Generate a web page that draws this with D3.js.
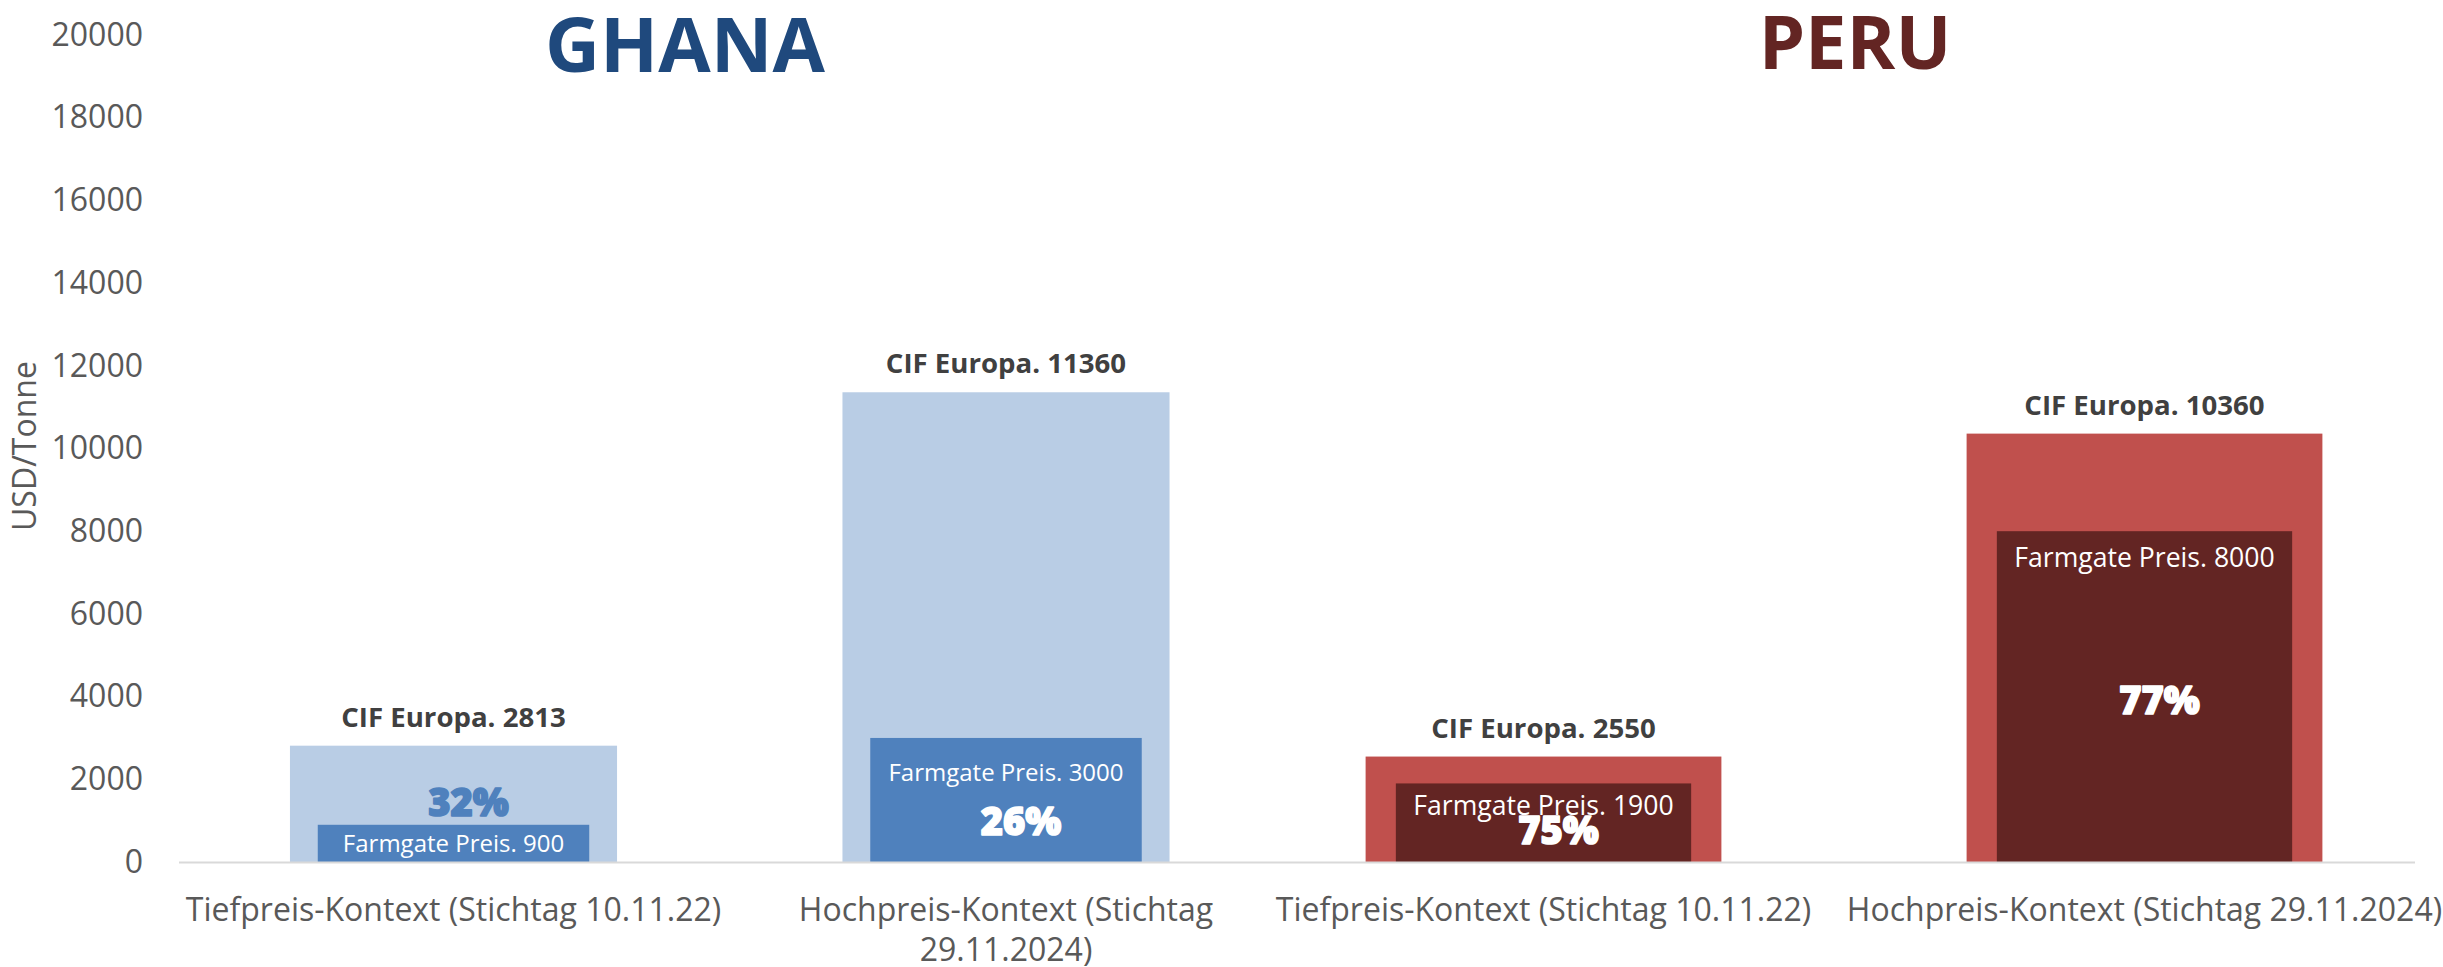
<!DOCTYPE html>
<html>
<head>
<meta charset="utf-8">
<script src="https://cdn.jsdelivr.net/npm/d3@7"></script>
<style>
  html, body { margin: 0; padding: 0; background: #fff; }
  svg { display: block; font-family: "Open Sans", sans-serif; }
</style>
</head>
<body>
<div id="chart"></div>
<script>
// Ghana vs Peru: CIF Europa vs Farmgate Preis (USD/Tonne)

const countries = ["GHANA", "PERU"];
const categories = [
    "Tiefpreis-Kontext (Stichtag 10.11.22)",
    "Hochpreis-Kontext (Stichtag 29.11.2024)",
    "Tiefpreis-Kontext (Stichtag 10.11.22)",
    "Hochpreis-Kontext (Stichtag 29.11.2024)"
];
const barCountry = ["GHANA", "GHANA", "PERU", "PERU"];
const cifValues = [2813, 11360, 2550, 10360];
const farmgateValues = [900, 3000, 1900, 8000];
const yTicks = [0, 2000, 4000, 6000, 8000, 10000, 12000, 14000, 16000, 18000, 20000];

// layout (nicht Daten)
const width = 2443;
const height = 967;
const colors = {
    GHANA: { outer: "#B9CDE5", inner: "#4F81BD", title: "#1F497D" },
    PERU:  { outer: "#C0504D", inner: "#632523", title: "#632523" }
};
const pctColor = ["#4F81BD", "#FFFFFF", "#FFFFFF", "#FFFFFF"];
const titleX = { GHANA: 685, PERU: 1855 };
const titleY = { GHANA: 72, PERU: 69 };
const titleSize = { GHANA: 76, PERU: 74 };
const farmLabelSize = [24, 24, 26.6, 26.6];
const farmLabelDy = [27, 43, 32, 36];      // Abstand Baseline ab Oberkante Farmgate-Balken
const pctLabelDy = [-9, 97, 61, 183];
const pctLabelDx = 15;

const svg = d3.select("#chart").append("svg")
    .attr("width", width)
    .attr("height", height);

const y = d3.scaleLinear().domain([0, 20000]).range([862, 35]);

// zwei Bandskalen, weil die beiden Länderblöcke unterschiedlich breit sind
const xScales = {
    GHANA: d3.scaleBand().domain([0, 1]).range([177.25, 1282.25]).paddingInner(0.408).paddingOuter(0.204),
    PERU:  d3.scaleBand().domain([2, 3]).range([1243, 2445]).paddingInner(0.408).paddingOuter(0.204)
};

const bars = categories.map((c, i) => ({
    i,
    category: c,
    country: barCountry[i],
    cif: cifValues[i],
    farm: farmgateValues[i]
}));

const xOf = d => xScales[d.country](d.i);
const bwOf = d => xScales[d.country].bandwidth();
const innerW = d => bwOf(d) * 0.83;
const centerOf = d => xOf(d) + bwOf(d) / 2;

// Y-Achse
const yAxis = svg.append("g")
    .attr("transform", "translate(143,0)")
    .call(d3.axisLeft(y).tickValues(yTicks).tickSize(0).tickPadding(0).tickFormat(d3.format("d")));
yAxis.select(".domain").remove();
yAxis.selectAll("text")
    .style("font-family", "Open Sans")
    .style("font-size", "32px")
    .attr("fill", "#595959");

svg.append("text")
    .attr("transform", `translate(36, 446) rotate(-90)`)
    .attr("text-anchor", "middle")
    .attr("font-size", 32)
    .attr("fill", "#595959")
    .text("USD/Tonne");

// Balken
const g = svg.append("g");

g.selectAll(".cif")
    .data(bars)
    .enter()
    .append("rect")
    .attr("class", "cif")
    .attr("x", xOf)
    .attr("y", d => y(d.cif))
    .attr("width", bwOf)
    .attr("height", d => y(0) - y(d.cif))
    .attr("fill", d => colors[d.country].outer);

g.selectAll(".farm")
    .data(bars)
    .enter()
    .append("rect")
    .attr("class", "farm")
    .attr("x", d => centerOf(d) - innerW(d) / 2)
    .attr("y", d => y(d.farm))
    .attr("width", innerW)
    .attr("height", d => y(0) - y(d.farm))
    .attr("fill", d => colors[d.country].inner);

// X-Achsenlinie
svg.append("line")
    .attr("x1", 179)
    .attr("x2", 2415)
    .attr("y1", y(0) + 0.5)
    .attr("y2", y(0) + 0.5)
    .attr("stroke", "#D9D9D9")
    .attr("stroke-width", 2);

// Beschriftungen
g.selectAll(".cif-label")
    .data(bars)
    .enter()
    .append("text")
    .attr("class", "cif-label")
    .attr("x", centerOf)
    .attr("y", d => y(d.cif) - 19)
    .attr("text-anchor", "middle")
    .attr("font-size", 27.6)
    .attr("font-weight", 700)
    .attr("fill", "#404040")
    .text(d => `CIF Europa. ${d.cif}`);

g.selectAll(".farm-label")
    .data(bars)
    .enter()
    .append("text")
    .attr("class", "farm-label")
    .attr("x", centerOf)
    .attr("y", d => y(d.farm) + farmLabelDy[d.i])
    .attr("text-anchor", "middle")
    .attr("font-size", d => farmLabelSize[d.i])
    .attr("fill", "#FFFFFF")
    .text(d => `Farmgate Preis. ${d.farm}`);

// Prozent = Farmgate / CIF, extra fett (Stroke verdickt die Glyphen)
g.selectAll(".pct-label")
    .data(bars)
    .enter()
    .append("text")
    .attr("class", "pct-label")
    .attr("x", d => centerOf(d) + pctLabelDx)
    .attr("y", d => y(d.farm) + pctLabelDy[d.i])
    .attr("text-anchor", "middle")
    .attr("font-size", 38)
    .attr("font-weight", 800)
    .attr("fill", d => pctColor[d.i])
    .attr("stroke", d => pctColor[d.i])
    .attr("stroke-width", 1.6)
    .attr("stroke-linejoin", "round")
    .text(d => `${Math.round(d.farm / d.cif * 100)}%`);

// Kategorien, umgebrochen auf die Bandbreite
const catLabels = svg.selectAll(".cat-label")
    .data(bars)
    .enter()
    .append("text")
    .attr("class", "cat-label")
    .attr("x", centerOf)
    .attr("y", 921)
    .attr("text-anchor", "middle")
    .attr("font-size", 32)
    .attr("fill", "#595959");

catLabels.each(function(d) {
    const text = d3.select(this);
    const maxW = xScales[d.country].step();
    const words = d.category.split(" ");
    let line = [];
    let tspan = text.append("tspan").attr("x", centerOf(d)).attr("dy", 0);
    words.forEach(w => {
        line.push(w);
        tspan.text(line.join(" "));
        if (tspan.node().getComputedTextLength() > maxW && line.length > 1) {
            line.pop();
            tspan.text(line.join(" "));
            line = [w];
            tspan = text.append("tspan").attr("x", centerOf(d)).attr("dy", 40).text(w);
        }
    });
});

// Ländertitel
svg.selectAll(".country-title")
    .data(countries)
    .enter()
    .append("text")
    .attr("class", "country-title")
    .attr("x", d => titleX[d])
    .attr("y", d => titleY[d])
    .attr("text-anchor", "middle")
    .attr("font-size", d => titleSize[d])
    .attr("font-weight", 700)
    .attr("fill", d => colors[d].title)
    .text(d => d);
</script>
</body>
</html>
